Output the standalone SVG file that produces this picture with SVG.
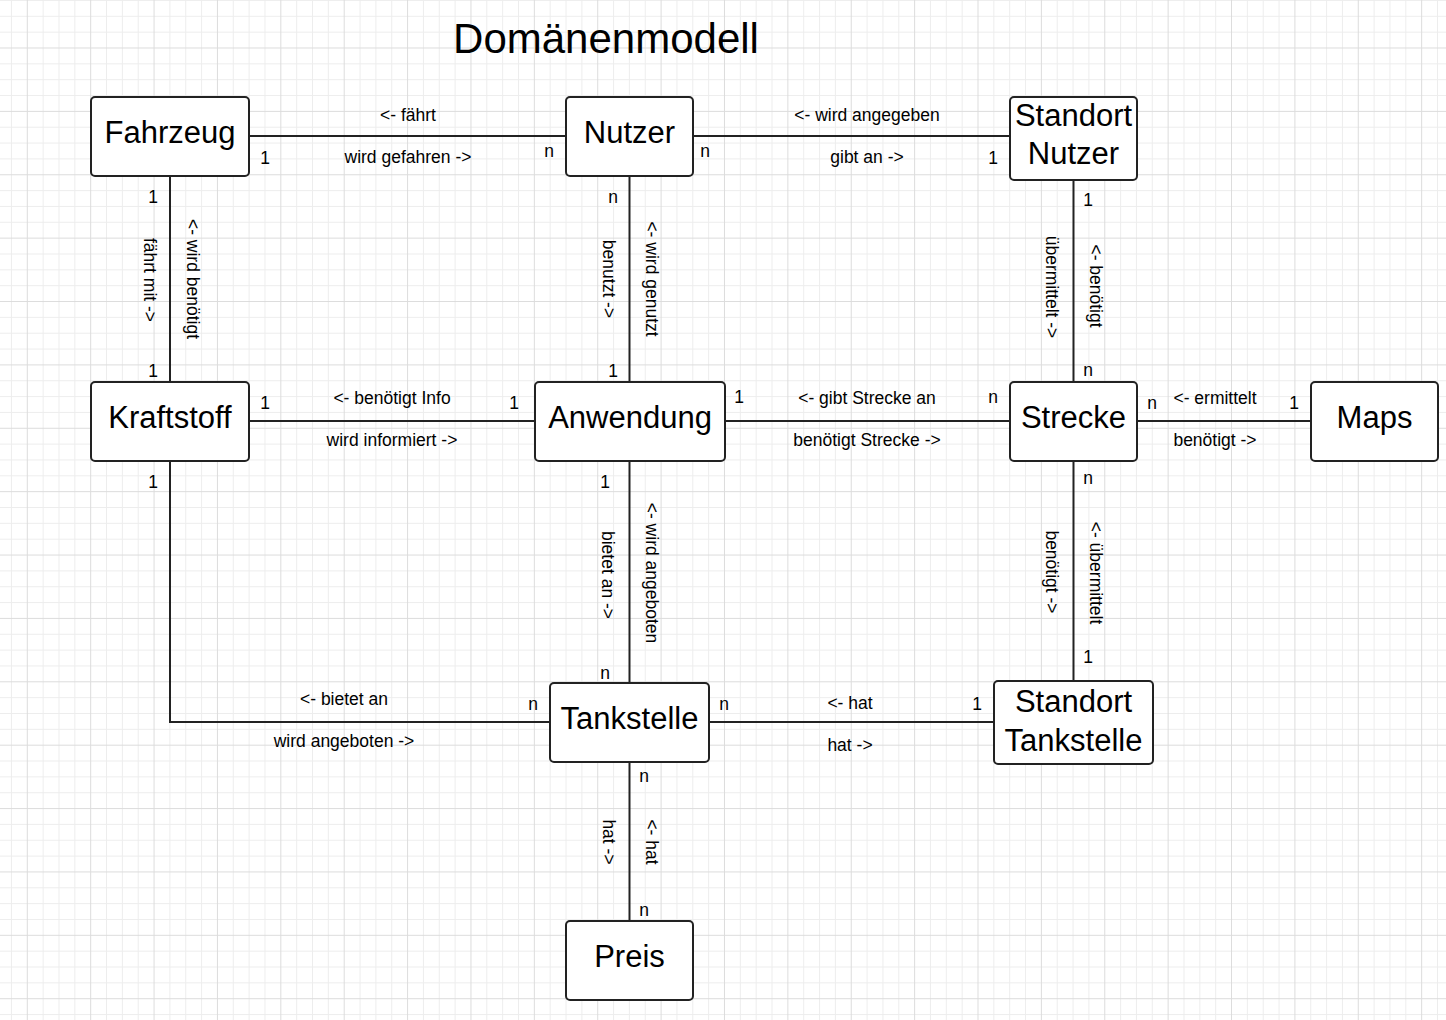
<svg xmlns="http://www.w3.org/2000/svg" width="1446" height="1020" viewBox="0 0 1446 1020">
<style>
.box{fill:#fff;stroke:#222;stroke-width:2}
.ln{fill:none;stroke:#222;stroke-width:2}
.nt{font-family:"Liberation Sans",Arial,sans-serif;font-size:31px;fill:#000;text-anchor:middle}
.lb{font-family:"Liberation Sans",Arial,sans-serif;font-size:17.5px;fill:#000;text-anchor:middle;dominant-baseline:central}
.title{font-family:"Liberation Sans",Arial,sans-serif;font-size:42px;fill:#000;text-anchor:middle}
</style>
<defs>
<pattern id="grid" patternUnits="userSpaceOnUse" x="26.8" y="47.5" width="63.38" height="63.38">
<rect x="15.845" y="0" width="1" height="63.38" fill="#ededed"/>
<rect x="31.69" y="0" width="1" height="63.38" fill="#ededed"/>
<rect x="47.535" y="0" width="1" height="63.38" fill="#ededed"/>
<rect x="0" y="15.845" width="63.38" height="1" fill="#ededed"/>
<rect x="0" y="31.69" width="63.38" height="1" fill="#ededed"/>
<rect x="0" y="47.535" width="63.38" height="1" fill="#ededed"/>
<rect x="0" y="0" width="1" height="63.38" fill="#dcdcdc"/>
<rect x="0" y="0" width="63.38" height="1" fill="#dcdcdc"/>
</pattern>
</defs>
<rect x="0" y="0" width="1446" height="1020" fill="#fff"/>
<rect x="0" y="0" width="1446" height="1020" fill="url(#grid)"/>
<text class="title" x="606" y="53">Domänenmodell</text>

<g id="connectors">
<line class="ln" x1="249" y1="136" x2="566" y2="136"/>
<line class="ln" x1="693" y1="136" x2="1010" y2="136"/>
<line class="ln" x1="170" y1="176" x2="170" y2="382"/>
<line class="ln" x1="629.5" y1="176" x2="629.5" y2="382"/>
<line class="ln" x1="1073.5" y1="180" x2="1073.5" y2="382"/>
<line class="ln" x1="249" y1="421" x2="535" y2="421"/>
<line class="ln" x1="725" y1="421" x2="1010" y2="421"/>
<line class="ln" x1="1137" y1="421" x2="1311" y2="421"/>
<line class="ln" x1="629.5" y1="461" x2="629.5" y2="683"/>
<line class="ln" x1="1073.5" y1="461" x2="1073.5" y2="681"/>
<path class="ln" d="M170 461 V722 H550"/>
<line class="ln" x1="709" y1="722" x2="994" y2="722"/>
<line class="ln" x1="629.5" y1="762" x2="629.5" y2="921"/>

<text class="lb" x="408" y="115">&lt;- fährt</text>
<text class="lb" x="408" y="157">wird gefahren -&gt;</text>
<text class="lb" x="265" y="158">1</text>
<text class="lb" x="549" y="151">n</text>
<text class="lb" x="867" y="115">&lt;- wird angegeben</text>
<text class="lb" x="867" y="157">gibt an -&gt;</text>
<text class="lb" x="705" y="151">n</text>
<text class="lb" x="993" y="158">1</text>
<text class="lb" x="392" y="398">&lt;- benötigt Info</text>
<text class="lb" x="392" y="440">wird informiert -&gt;</text>
<text class="lb" x="265" y="403">1</text>
<text class="lb" x="514" y="403">1</text>
<text class="lb" x="867" y="398">&lt;- gibt Strecke an</text>
<text class="lb" x="867" y="440">benötigt Strecke -&gt;</text>
<text class="lb" x="739" y="397">1</text>
<text class="lb" x="993" y="397">n</text>
<text class="lb" x="1215" y="398">&lt;- ermittelt</text>
<text class="lb" x="1215" y="440">benötigt -&gt;</text>
<text class="lb" x="1152" y="403">n</text>
<text class="lb" x="1294" y="403">1</text>
<text class="lb" x="344" y="699">&lt;- bietet an</text>
<text class="lb" x="344" y="741">wird angeboten -&gt;</text>
<text class="lb" x="533" y="704">n</text>
<text class="lb" x="724" y="704">n</text>
<text class="lb" x="850" y="703">&lt;- hat</text>
<text class="lb" x="850" y="745">hat -&gt;</text>
<text class="lb" x="977" y="704">1</text>

<text class="lb" x="153" y="197">1</text>
<text class="lb" x="153" y="371">1</text>
<text class="lb" x="613" y="197">n</text>
<text class="lb" x="613" y="371">1</text>
<text class="lb" x="1088" y="200">1</text>
<text class="lb" x="1088" y="370">n</text>
<text class="lb" x="153" y="482">1</text>
<text class="lb" x="605" y="482">1</text>
<text class="lb" x="605" y="673">n</text>
<text class="lb" x="1088" y="478">n</text>
<text class="lb" x="1088" y="657">1</text>
<text class="lb" x="644" y="776">n</text>
<text class="lb" x="644" y="910">n</text>

<text class="lb" transform="translate(150 280) rotate(90)">fährt mit -&gt;</text>
<text class="lb" transform="translate(193 279) rotate(90)">&lt;- wird benötigt</text>
<text class="lb" transform="translate(609 279) rotate(90)">benutzt -&gt;</text>
<text class="lb" transform="translate(652 279) rotate(90)">&lt;- wird genutzt</text>
<text class="lb" transform="translate(1052 287) rotate(90)">übermittelt -&gt;</text>
<text class="lb" transform="translate(1096 286) rotate(90)">&lt;- benötigt</text>
<text class="lb" transform="translate(608 575) rotate(90)">bietet an -&gt;</text>
<text class="lb" transform="translate(652 573) rotate(90)">&lt;- wird angeboten</text>
<text class="lb" transform="translate(1052 572) rotate(90)">benötigt -&gt;</text>
<text class="lb" transform="translate(1096 573) rotate(90)">&lt;- übermittelt</text>
<text class="lb" transform="translate(609 842) rotate(90)">hat -&gt;</text>
<text class="lb" transform="translate(652 842) rotate(90)">&lt;- hat</text>
</g>

<g id="fahrzeug"><rect class="box" x="91" y="97" width="158" height="79" rx="4"/><text class="nt" x="170" y="143">Fahrzeug</text></g>
<g id="nutzer"><rect class="box" x="566" y="97" width="127" height="79" rx="4"/><text class="nt" x="629.5" y="143">Nutzer</text></g>
<g id="standort-nutzer"><rect class="box" x="1010" y="97" width="127" height="83" rx="4"/><text class="nt" x="1073.5" y="126">Standort</text><text class="nt" x="1073.5" y="163.5">Nutzer</text></g>
<g id="kraftstoff"><rect class="box" x="91" y="382" width="158" height="79" rx="4"/><text class="nt" x="170" y="427.5">Kraftstoff</text></g>
<g id="anwendung"><rect class="box" x="535" y="382" width="190" height="79" rx="4"/><text class="nt" x="630" y="427.5">Anwendung</text></g>
<g id="strecke"><rect class="box" x="1010" y="382" width="127" height="79" rx="4"/><text class="nt" x="1073.5" y="427.5">Strecke</text></g>
<g id="maps"><rect class="box" x="1311" y="382" width="127" height="79" rx="4"/><text class="nt" x="1374.5" y="427.5">Maps</text></g>
<g id="tankstelle"><rect class="box" x="550" y="683" width="159" height="79" rx="4"/><text class="nt" x="629.5" y="728.5">Tankstelle</text></g>
<g id="standort-tankstelle"><rect class="box" x="994" y="681" width="159" height="83" rx="4"/><text class="nt" x="1073.5" y="712">Standort</text><text class="nt" x="1073.5" y="750.5">Tankstelle</text></g>
<g id="preis"><rect class="box" x="566" y="921" width="127" height="79" rx="4"/><text class="nt" x="629.5" y="966.5">Preis</text></g>
</svg>
